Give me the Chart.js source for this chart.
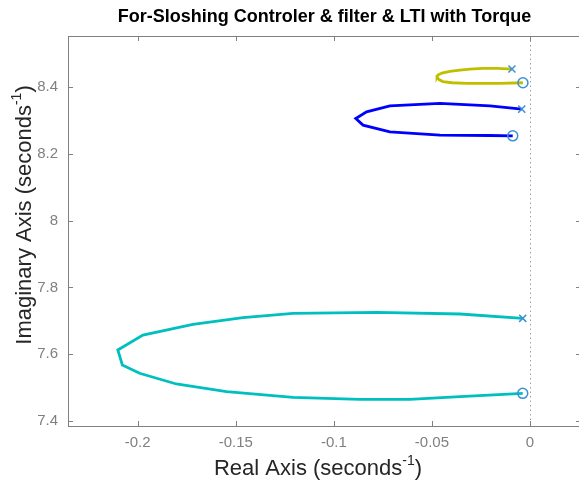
<!DOCTYPE html>
<html>
<head>
<meta charset="utf-8">
<title>Root locus</title>
<script src="https://cdn.jsdelivr.net/npm/chart.js@4/dist/chart.umd.min.js"></script>
<style>
  html, body { margin: 0; padding: 0; background: #fff; overflow: hidden; }
  #wrap { width: 579px; height: 486px; overflow: hidden; }
  #rlocus { display: block; }
</style>
</head>
<body>
<div id="wrap"><canvas id="rlocus" width="592" height="486" style="width:592px;height:486px"></canvas></div>
<script>
// Locus branches, real / imaginary parts (seconds^-1)
const upperRe = [-0.0092, -0.0168, -0.0240, -0.0306, -0.0357, -0.0408, -0.0449, -0.0469, -0.0474,
                 -0.0464, -0.0444, -0.0398, -0.0321, -0.0153, -0.0036];
const upperIm = [8.454, 8.456, 8.456, 8.454, 8.451, 8.447, 8.442, 8.436, 8.430,
                 8.4225, 8.4165, 8.413, 8.411, 8.411, 8.413];

const middleRe = [-0.0042, -0.0204, -0.0459, -0.0714, -0.0833, -0.0888, -0.0851, -0.0714, -0.0459, -0.0204, -0.0088];
const middleIm = [8.334, 8.344, 8.351, 8.344, 8.326, 8.306, 8.286, 8.266, 8.256, 8.255, 8.254];

const lowerRe = [-0.0037, -0.0357, -0.0782, -0.1208, -0.1463, -0.1718, -0.1973, -0.2101, -0.2078, -0.1990,
                 -0.1803, -0.1547, -0.1208, -0.0867, -0.0612, -0.0357, -0.0037];
const lowerIm = [7.7075, 7.7204, 7.7254, 7.7225, 7.7093, 7.6895, 7.6575, 7.6126, 7.5677, 7.5428,
                 7.5108, 7.4877, 7.4710, 7.4650, 7.4650, 7.4728, 7.4829];

// Open-loop poles and zeros
const poleRe = [-0.0092, -0.0042, -0.0037];
const poleIm = [8.454, 8.334, 7.7075];
const zeroRe = [-0.0036, -0.0088, -0.0037];
const zeroIm = [8.413, 8.254, 7.4829];

// Axis ticks
const xTicks = [-0.2, -0.15, -0.1, -0.05, 0];
const yTicks = [7.4, 7.6, 7.8, 8, 8.2, 8.4];

const TITLE = "For-Sloshing Controler & filter & LTI with Torque";
const FONT = "'Liberation Sans', Arial, Helvetica, sans-serif";

function pts(re, im) {
  return re.map(function (x, i) { return { x: x, y: im[i] }; });
}

function branch(re, im, color) {
  return {
    data: pts(re, im),
    showLine: true,
    borderColor: color,
    borderWidth: 2.8,
    pointRadius: 0,
    fill: false,
    tension: 0,
    order: 2,
  };
}

function drawSupLabel(ctx, base, sup, tail, x, y, rotate) {
  ctx.save();
  ctx.translate(x, y);
  if (rotate) ctx.rotate(-Math.PI / 2);
  const mainFont = "22px " + FONT;
  const supFont = "14px " + FONT;
  ctx.font = mainFont;
  const wBase = ctx.measureText(base).width;
  const wTail = ctx.measureText(tail).width;
  ctx.font = supFont;
  const wSup = ctx.measureText(sup).width;
  let cx = -(wBase + wSup + wTail) / 2;
  ctx.textAlign = "left";
  ctx.textBaseline = "alphabetic";
  ctx.fillStyle = "#262626";
  ctx.font = mainFont;
  ctx.fillText(base, cx, 8);
  cx += wBase;
  ctx.font = supFont;
  ctx.fillText(sup, cx, -2);
  cx += wSup;
  ctx.font = mainFont;
  ctx.fillText(tail, cx, 8);
  ctx.restore();
}

// Box, inward ticks, the Re = 0 line and the text around the axes
const framePlugin = {
  id: "frame",
  beforeDatasetsDraw: function (chart) {
    const ctx = chart.ctx;
    const a = chart.chartArea;
    const x0 = Math.round(chart.scales.x.getPixelForValue(0)) + 0.5;
    ctx.save();
    ctx.strokeStyle = "#a0a0a0";
    ctx.lineWidth = 1;
    ctx.setLineDash([1.5, 3]);
    ctx.beginPath();
    ctx.moveTo(x0, a.top);
    ctx.lineTo(x0, a.bottom);
    ctx.stroke();
    ctx.restore();
  },
  afterDraw: function (chart) {
    const ctx = chart.ctx;
    const a = chart.chartArea;
    const xs = chart.scales.x;
    const ys = chart.scales.y;
    const tl = 5;
    ctx.save();
    ctx.strokeStyle = "#808080";
    ctx.lineWidth = 1;
    ctx.strokeRect(a.left + 0.5, a.top + 0.5, a.right - a.left, a.bottom - a.top);
    ctx.beginPath();
    xTicks.forEach(function (v) {
      const px = Math.round(xs.getPixelForValue(v)) + 0.5;
      ctx.moveTo(px, a.bottom);
      ctx.lineTo(px, a.bottom - tl);
      ctx.moveTo(px, a.top);
      ctx.lineTo(px, a.top + tl);
    });
    yTicks.forEach(function (v) {
      const py = Math.round(ys.getPixelForValue(v)) + 0.5;
      ctx.moveTo(a.left, py);
      ctx.lineTo(a.left + tl, py);
      ctx.moveTo(a.right, py);
      ctx.lineTo(a.right - tl, py);
    });
    ctx.stroke();

    ctx.fillStyle = "#000";
    ctx.font = "bold 18px " + FONT;
    ctx.textAlign = "center";
    ctx.textBaseline = "middle";
    ctx.fillText(TITLE, (a.left + a.right) / 2, 17);
    ctx.restore();

    drawSupLabel(ctx, "Real Axis (seconds", "-1", ")", 318, 467, false);
    drawSupLabel(ctx, "Imaginary Axis (seconds", "-1", ")", 23, 215, true);
  },
};

function fmt(v) {
  return String(Math.round(v * 1000) / 1000);
}

new Chart(document.getElementById("rlocus").getContext("2d"), {
  type: "scatter",
  data: {
    datasets: [
      branch(upperRe, upperIm, "#bfbf00"),
      branch(middleRe, middleIm, "#0000ff"),
      branch(lowerRe, lowerIm, "#00bfbf"),
      {
        data: pts(poleRe, poleIm),
        pointStyle: "crossRot",
        pointRadius: 5,
        pointBorderColor: "#3d8fd6",
        pointBackgroundColor: "#3d8fd6",
        pointBorderWidth: 1.5,
        showLine: false,
        order: 0,
      },
      {
        data: pts(zeroRe, zeroIm),
        pointStyle: "circle",
        pointRadius: 5,
        pointBorderColor: "#3d8fd6",
        pointBackgroundColor: "rgba(0,0,0,0)",
        pointBorderWidth: 1.5,
        showLine: false,
        order: 0,
      },
    ],
  },
  options: {
    responsive: false,
    animation: false,
    devicePixelRatio: 1,
    events: [],
    layout: {
      padding: { top: 36, right: 11, bottom: 0, left: 0 },
    },
    plugins: {
      legend: { display: false },
      tooltip: { enabled: false },
      title: { display: false },
    },
    scales: {
      x: {
        type: "linear",
        min: -0.2355,
        max: 0.026,
        grid: { display: false, drawTicks: false },
        border: { display: false },
        afterBuildTicks: function (scale) {
          scale.ticks = xTicks.map(function (v) { return { value: v }; });
        },
        afterFit: function (scale) {
          scale.height = 60;
        },
        ticks: {
          padding: 8,
          color: "#808080",
          font: { family: FONT, size: 15 },
          callback: fmt,
          maxRotation: 0,
          autoSkip: false,
        },
      },
      y: {
        type: "linear",
        min: 7.385,
        max: 8.553,
        grid: { display: false, drawTicks: false },
        border: { display: false },
        afterBuildTicks: function (scale) {
          scale.ticks = yTicks.map(function (v) { return { value: v }; });
        },
        afterFit: function (scale) {
          scale.width = 68;
        },
        ticks: {
          padding: 10,
          color: "#808080",
          font: { family: FONT, size: 15 },
          callback: fmt,
          autoSkip: false,
        },
      },
    },
  },
  plugins: [framePlugin],
});
</script>
</body>
</html>
